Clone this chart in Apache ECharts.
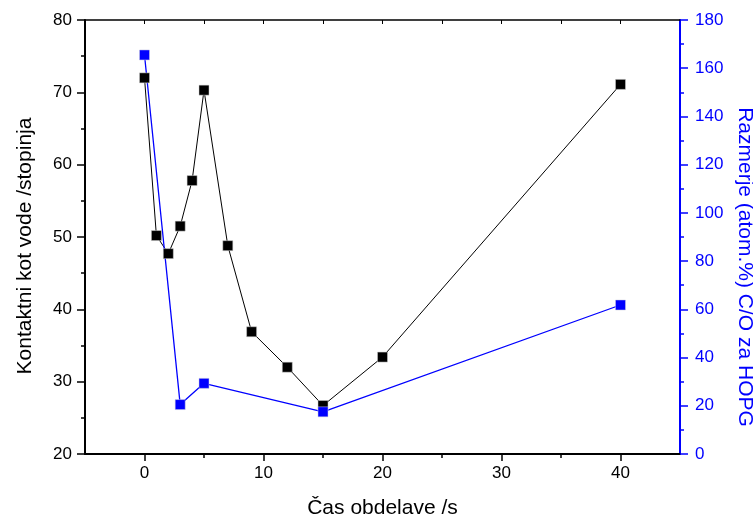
<!DOCTYPE html>
<html>
<head>
<meta charset="utf-8">
<script src="https://cdn.jsdelivr.net/npm/echarts@6/dist/echarts.min.js"></script>
<style>
html,body{margin:0;padding:0;background:#fff;}
#main{width:753px;height:523px;}
</style>
</head>
<body>
<div id="main"></div>
<script>
// contact angle (left axis)
var times=[0,1,2,3,4,5,7,9,12,15,20,40];
var contactAngle=[72.0,50.2,47.7,51.5,57.8,70.3,48.8,36.9,32.0,26.7,33.4,71.1];
// C/O ratio (right axis)
var ratioTimes=[0,3,5,15,40];
var ratioCO=[165.5,20.5,29.3,17.5,61.8];
var xMajor=[0,10,20,30,40];
var xMinor=[5,15,25,35];
var xTop=[0,5,10,15,20,25,30,35,40];

var font='Liberation Sans, Arial, sans-serif';
var angleData=[];
for (var i=0;i<times.length;i++){
    angleData.push([times[i],contactAngle[i]]);
}
var ratioData=[];
for (var j=0;j<ratioTimes.length;j++){
    ratioData.push([ratioTimes[j],ratioCO[j]]);
}

var myChart=echarts.init(document.getElementById('main'));
var option={
    animation:false,
    grid:{left:85,right:73,top:20,bottom:69,containLabel:false,outerBoundsMode:'none'},
    xAxis:[
        {
            type:'value',min:-5,max:45,position:'bottom',
            name:'Čas obdelave /s',nameLocation:'middle',nameGap:44,
            nameTextStyle:{fontFamily:font,fontSize:21,color:'#000'},
            axisLine:{show:true,onZero:false,lineStyle:{color:'#000',width:2}},
            axisTick:{show:true,customValues:xMajor,length:7,lineStyle:{color:'#000',width:1.5}},
            axisLabel:{customValues:xMajor,margin:11,fontFamily:font,fontSize:17,color:'#000'},
            splitLine:{show:false}
        },
        {
            type:'value',min:-5,max:45,position:'bottom',
            axisLine:{show:false,onZero:false},
            axisTick:{show:true,customValues:xMinor,length:4,lineStyle:{color:'#000',width:1.5}},
            axisLabel:{show:false},
            splitLine:{show:false}
        },
        {
            type:'value',min:-5,max:45,position:'top',
            axisLine:{show:true,onZero:false,lineStyle:{color:'#000',width:1.5}},
            axisTick:{show:true,inside:true,customValues:xTop,length:4,lineStyle:{color:'#000',width:1}},
            axisLabel:{show:false},
            splitLine:{show:false}
        }
    ],
    yAxis:[
        {
            type:'value',min:20,max:80,interval:10,position:'left',
            name:'Kontaktni kot vode /stopinja',nameLocation:'middle',nameGap:49,
            nameTextStyle:{fontFamily:font,fontSize:21,color:'#000',padding:[0,18,0,0]},
            axisLine:{show:true,onZero:false,lineStyle:{color:'#000',width:2}},
            axisTick:{show:true,length:8,lineStyle:{color:'#000',width:1.5}},
            minorTick:{show:true,splitNumber:2,length:4,lineStyle:{color:'#000',width:1.5}},
            axisLabel:{margin:13,fontFamily:font,fontSize:17,color:'#000'},
            splitLine:{show:false}
        },
        {
            type:'value',min:0,max:180,interval:20,position:'right',
            name:'Razmerje (atom.%) C/O za HOPG',nameLocation:'middle',nameGap:39,nameRotate:-90,
            nameTextStyle:{fontFamily:font,fontSize:21,color:'#0000ff',padding:[0,0,0,60]},
            axisLine:{show:true,onZero:false,lineStyle:{color:'#0000ff',width:2}},
            axisTick:{show:true,length:8,lineStyle:{color:'#0000ff',width:1.5}},
            minorTick:{show:true,splitNumber:2,length:4,lineStyle:{color:'#0000ff',width:1.5}},
            axisLabel:{margin:15,fontFamily:font,fontSize:17,color:'#0000ff'},
            splitLine:{show:false}
        }
    ],
    series:[
        {
            type:'line',xAxisIndex:0,yAxisIndex:0,data:angleData,
            symbol:'rect',symbolSize:10,
            lineStyle:{color:'#000',width:1},
            itemStyle:{color:'#000',borderColor:'#ccc',borderWidth:0.5}
        },
        {
            type:'line',xAxisIndex:0,yAxisIndex:1,data:ratioData,
            symbol:'rect',symbolSize:10,
            lineStyle:{color:'#0000ff',width:1.3},
            itemStyle:{color:'#0000ff',borderColor:'#ccd',borderWidth:0.5}
        }
    ]
};
myChart.setOption(option);
</script>
</body>
</html>
